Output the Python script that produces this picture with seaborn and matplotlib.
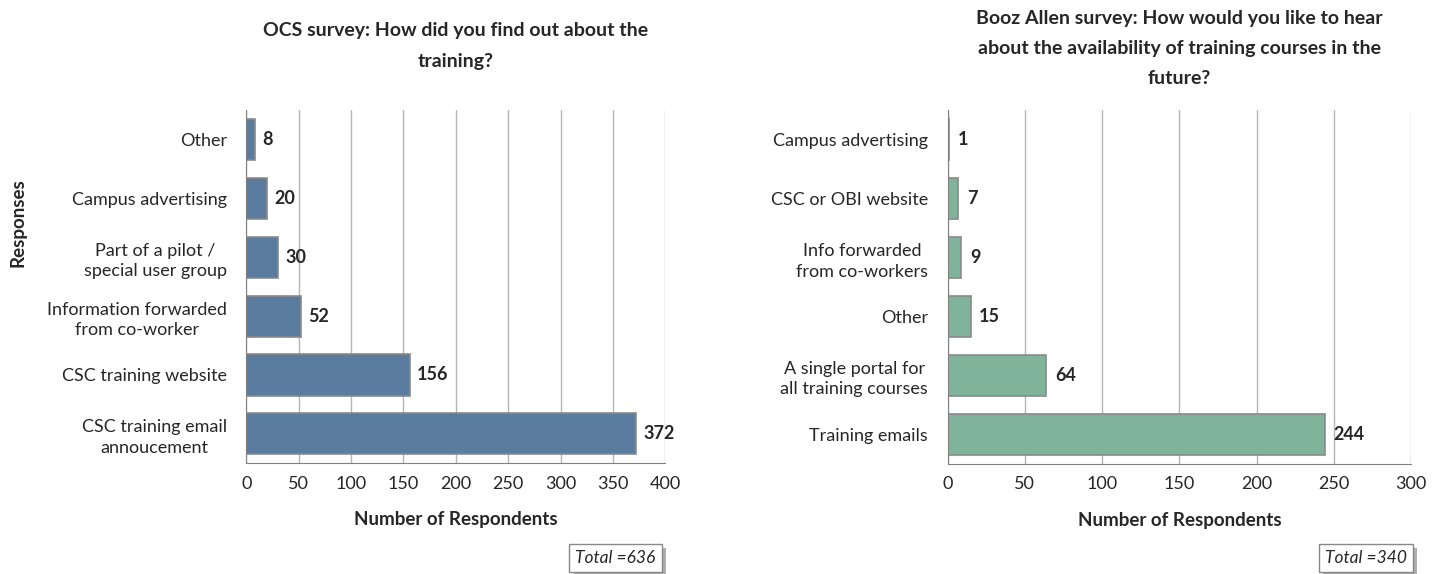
import matplotlib
matplotlib.use("Agg")
import matplotlib.pyplot as plt
import matplotlib.patheffects as pe
import pandas as pd
import seaborn as sb

# OCS survey data
ocs_responses = ["Other", "Campus advertising", "Part of a pilot /\nspecial user group",
                 "Information forwarded\nfrom co-worker", "CSC training website",
                 "CSC training email\nannoucement"]
ocs_counts = [8, 20, 30, 52, 156, 372]

# Booz Allen survey data
ba_responses = ["Campus advertising", "CSC or OBI website", "Info forwarded\nfrom co-workers",
                "Other", "A single portal for\nall training courses", "Training emails"]
ba_counts = [1, 7, 9, 15, 64, 244]

sb.set_style("white")
plt.rcParams['font.family'] = ['Lato', 'DejaVu Sans']

fig = plt.figure(figsize=(14.4, 5.74), dpi=100)
ax1 = fig.add_axes([0.171, 0.193, 0.291, 0.615])
ax2 = fig.add_axes([0.658, 0.192, 0.322, 0.616])


def draw(ax, labels, counts, color, xmax, title, title_y):
    df = pd.DataFrame({"Response": labels, "Count": counts})
    sb.barplot(data=df, y="Response", x="Count", color=color, ax=ax,
               orient="h", width=0.7, edgecolor="#8a8a8a", linewidth=1.2,
               saturation=1)
    ax.set_xlim(0, xmax)
    ax.set_xticks(range(0, xmax + 1, 50))
    ax.set_ylim(len(labels) - 0.5, -0.5)
    ax.xaxis.grid(True, color="#b5b5b5", linewidth=1)
    ax.set_axisbelow(True)
    for s in ["top", "right"]:
        ax.spines[s].set_visible(False)
    ax.spines["left"].set_color("#808080")
    ax.spines["bottom"].set_color("#808080")
    ax.tick_params(axis="x", length=5, color="#808080", labelsize=13, pad=4)
    ax.tick_params(axis="y", length=0, labelsize=13, pad=14)
    ax.set_yticks([i + 0.5 for i in range(-1, len(labels))], minor=True)
    ax.tick_params(axis="y", which="minor", length=5, color="#808080")
    for lab in ax.get_yticklabels():
        lab.set_multialignment("center")
        lab.set_linespacing(1.35)
    ax.set_xlabel("Number of Respondents", fontsize=13.5, fontweight="bold", labelpad=14)
    ax.set_ylabel("")
    for i, v in enumerate(counts):
        ax.text(v + xmax * 0.018, i, str(v), va="center", ha="left",
                fontsize=13, fontweight="bold")
    ax.set_title(title, fontsize=14, fontweight="bold", y=title_y, linespacing=1.95)
    return ax


draw(ax1, ocs_responses, ocs_counts, "#5a7d9f", 400,
     "OCS survey: How did you find out about the\ntraining?", 1.1)
draw(ax2, ba_responses, ba_counts, "#7fb39a", 300,
     "Booz Allen survey: How would you like to hear\nabout the availability of training courses in the\nfuture?",
     1.05)

fig.text(0.0125, 0.613, "Responses", rotation=90, va="center", ha="center",
         fontsize=13.5, fontweight="bold")

# Total boxes with a small drop shadow
for xpos, label in [(0.4275, "Total =636"), (0.9485, "Total =340")]:
    t = fig.text(xpos, 0.028, label, fontsize=12.5, style="italic", ha="center", va="center",
                 bbox=dict(boxstyle="square,pad=0.35", facecolor="white", edgecolor="#888888"))
    t.get_bbox_patch().set_path_effects([
        pe.SimplePatchShadow(offset=(3, -3), shadow_rgbFace="#9a9a9a", alpha=0.8),
        pe.Normal()])

plt.savefig("out.png", dpi=100)
